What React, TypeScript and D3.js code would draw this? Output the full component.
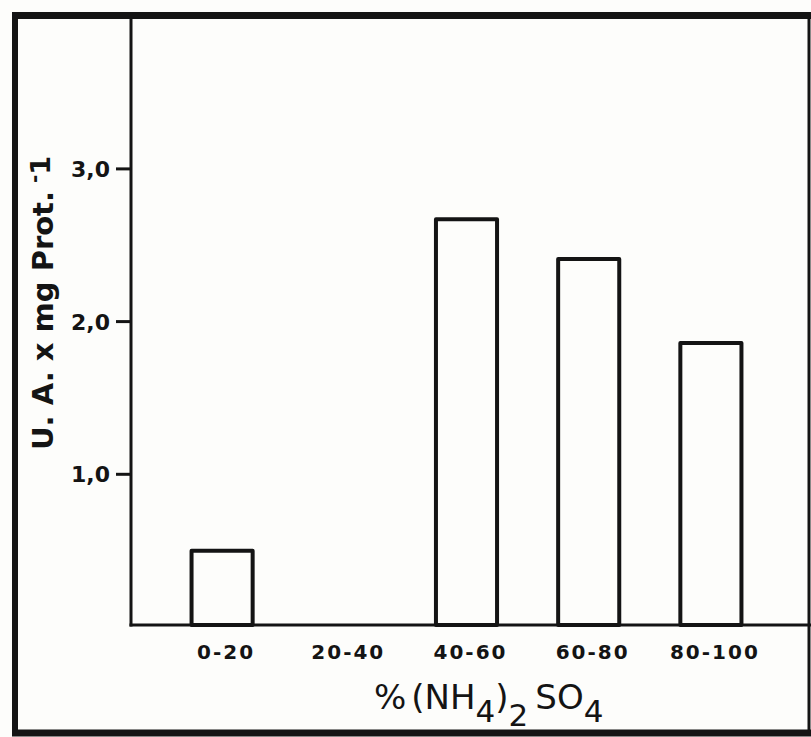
import React from "react";
import * as d3 from "d3";

const categories = ["0-20", "20-40", "40-60", "60-80", "80-100"];
const values = [0.5, 0, 2.67, 2.41, 1.86];
const yTicks = [1, 2, 3];
const yTickLabels = ["1,0", "2,0", "3,0"];

const W = 811;
const H = 737;

export default function App() {
  const x = d3.scaleBand<string>().domain(categories).range([161, 772]).paddingInner(0.5).paddingOuter(0.25);
  const y = d3.scaleLinear().domain([0, 3]).range([627, 168.9]);
  const ink = "#141414";
  const font = "'DejaVu Sans', sans-serif";
  const axisY = 625;
  const axisX = 131;

  return (
    <svg width={W} height={H} style={{ position: "absolute", left: 0, top: 0, background: "#fdfdfb" }}>
      <rect x={0} y={0} width={W} height={H} fill="#fdfdfb" />
      {/* frame */}
      <line x1={12} x2={W} y1={15.5} y2={15.5} stroke={ink} strokeWidth={7} />
      <line x1={15} x2={15} y1={12} y2={736} stroke={ink} strokeWidth={6} />
      <line x1={12} x2={W} y1={733} y2={733} stroke={ink} strokeWidth={7} />
      <line x1={809} x2={809} y1={15} y2={736} stroke={ink} strokeWidth={3} />
      {/* bars */}
      {categories.map((c, i) =>
        values[i] > 0 ? (
          <rect
            key={c}
            x={x(c)!}
            y={y(values[i])}
            width={x.bandwidth()}
            height={axisY - y(values[i])}
            fill="none"
            stroke={ink}
            strokeWidth={4}
            strokeLinejoin="round"
          />
        ) : null
      )}
      {/* axes */}
      <line x1={axisX} x2={axisX} y1={17} y2={axisY + 1.5} stroke={ink} strokeWidth={3} />
      <line x1={axisX - 1.5} x2={W} y1={axisY} y2={axisY} stroke={ink} strokeWidth={3} />
      {yTicks.map((t, i) => (
        <g key={t}>
          <line x1={116} x2={axisX} y1={y(t)} y2={y(t)} stroke={ink} strokeWidth={3} />
          <text x={110} y={y(t)} dy="0.36em" textAnchor="end" fontFamily={font} fontWeight="bold" fontSize={22} fill={ink}>
            {yTickLabels[i]}
          </text>
        </g>
      ))}
      {/* category labels */}
      {categories.map((c) => (
        <text
          key={c}
          x={x(c)! + x.bandwidth() / 2 + 4}
          y={659}
          textAnchor="middle"
          fontFamily={font}
          fontWeight="bold"
          fontSize={20}
          letterSpacing={2}
          fill={ink}
        >
          {c}
        </text>
      ))}
      {/* x title */}
      <text x={374} y={709} fontFamily={font} fontSize={34} fill={ink}>
        <tspan>%</tspan>
        <tspan dx={5}>(NH</tspan>
        <tspan fontSize={31} dy={13}>4</tspan>
        <tspan dy={-13}>)</tspan>
        <tspan fontSize={31} dy={17}>2</tspan>
        <tspan dy={-17} dx={7}>SO</tspan>
        <tspan fontSize={31} dy={13}>4</tspan>
      </text>
      {/* y title */}
      <text transform="translate(53,450) rotate(-90)" fontFamily={font} fontWeight="bold" fontSize={29} fill={ink}>
        <tspan>U. A. x mg Prot.</tspan>
        <tspan fontSize={20} dy={-12} dx={8}>-</tspan>
        <tspan fontSize={27} dy={9}>1</tspan>
      </text>
    </svg>
  );
}
